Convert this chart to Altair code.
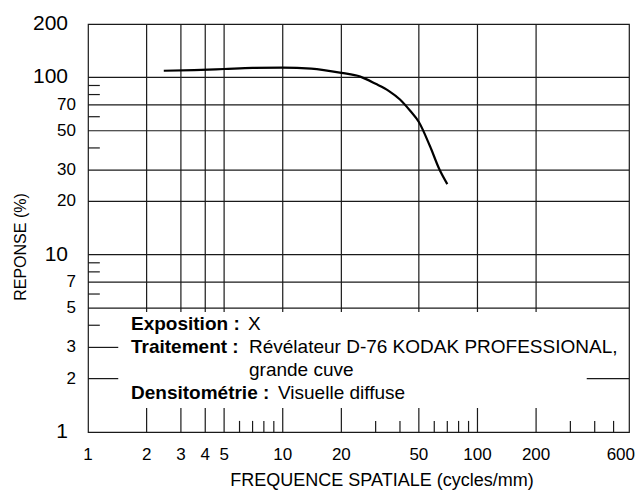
import altair as alt
import pandas as pd

# ---- data ----
freq = [2.45, 3.5, 5, 7, 10, 14, 20, 25, 30, 35, 40, 45, 50, 57, 64, 70]
resp = [109, 110, 111.5, 113, 113.5, 112, 106, 101, 92, 84, 75, 65, 56, 41, 30, 25]

x_grid = [2, 3, 4, 5, 10, 20, 50, 100, 200]
y_grid = [5, 7, 10, 20, 30, 50, 70, 100]
y_minor_short = [90, 80, 60, 40, 9, 8, 6, 4]
y_minor_long = [3, 2]
x_minor = [6, 7, 8, 9, 30, 40, 60, 70, 80, 90, 300, 400, 500]
x_labels = [1, 2, 3, 4, 5, 10, 20, 50, 100, 200]
x_label_last = [600]
y_labels_big = [200, 100, 10, 1]
y_labels_small = [70, 50, 30, 20, 7, 5, 3, 2]

ann_keys = ["Exposition :", "Traitement :", "", "Densitométrie :"]
ann_vals = ["X", "Révélateur D-76 KODAK PROFESSIONAL,", "grande cuve", "Visuelle diffuse"]

x_title = "FREQUENCE SPATIALE (cycles/mm)"
y_title = "REPONSE (%)"

FONT = "Liberation Sans"
LINE = "#1a1a1a"

xs = alt.Scale(type="log", domain=[1, 600], nice=False)
ys = alt.Scale(type="log", domain=[1, 200], nice=False)

def X(field, **kw):
    return alt.X(field, type="quantitative", scale=xs, axis=None, **kw)

def Y(field, **kw):
    return alt.Y(field, type="quantitative", scale=ys, axis=None, **kw)

layers = []

# vertical grid lines (stop just under the 5 % line)
vg = pd.DataFrame({"x": x_grid, "y1": [4.75] * len(x_grid), "y2": [200] * len(x_grid)})
layers.append(alt.Chart(vg).mark_rule(color=LINE, strokeWidth=1.2).encode(
    x=X("x"), y=Y("y1"), y2="y2"))

# bottom long ticks
bt = pd.DataFrame({"x": x_grid, "y1": [1] * len(x_grid), "y2": [1.366] * len(x_grid)})
layers.append(alt.Chart(bt).mark_rule(color=LINE, strokeWidth=1.2).encode(
    x=X("x"), y=Y("y1"), y2="y2"))

# bottom short ticks
bs = pd.DataFrame({"x": x_minor, "y1": [1] * len(x_minor), "y2": [1.155] * len(x_minor)})
layers.append(alt.Chart(bs).mark_rule(color=LINE, strokeWidth=1.2).encode(
    x=X("x"), y=Y("y1"), y2="y2"))

# horizontal grid lines
hg = pd.DataFrame({"y": y_grid, "x1": [1] * len(y_grid), "x2": [600] * len(y_grid)})
layers.append(alt.Chart(hg).mark_rule(color=LINE, strokeWidth=1.2).encode(
    y=Y("y"), x=X("x1"), x2="x2"))

# left short ticks
ls = pd.DataFrame({"y": y_minor_short, "x1": [1] * len(y_minor_short), "x2": [1.15] * len(y_minor_short)})
layers.append(alt.Chart(ls).mark_rule(color=LINE, strokeWidth=1.2).encode(
    y=Y("y"), x=X("x1"), x2="x2"))

# left long ticks
ll = pd.DataFrame({"y": y_minor_long, "x1": [1] * len(y_minor_long), "x2": [1.43] * len(y_minor_long)})
layers.append(alt.Chart(ll).mark_rule(color=LINE, strokeWidth=1.2).encode(
    y=Y("y"), x=X("x1"), x2="x2"))

# right tick at 2
rt = pd.DataFrame({"y": [2], "x1": [364], "x2": [600]})
layers.append(alt.Chart(rt).mark_rule(color=LINE, strokeWidth=1.2).encode(
    y=Y("y"), x=X("x1"), x2="x2"))

# curve
cdf = pd.DataFrame({"f": freq, "r": resp})
layers.append(alt.Chart(cdf).mark_line(color="black", strokeWidth=2.2, interpolate="monotone").encode(
    x=X("f"), y=Y("r")))

# x labels
xl = pd.DataFrame({"v": x_labels})
layers.append(alt.Chart(xl).mark_text(align="center", baseline="middle", fontSize=17,
                                      font=FONT, color="black").encode(
    x=X("v"), y=alt.value(431), text=alt.Text("v:Q", format="d")))
xl2 = pd.DataFrame({"v": x_label_last})
layers.append(alt.Chart(xl2).mark_text(align="right", baseline="middle", fontSize=17, dx=6,
                                       font=FONT, color="black").encode(
    x=X("v"), y=alt.value(431), text=alt.Text("v:Q", format="d")))

# y labels
ybig = pd.DataFrame({"v": y_labels_big})
layers.append(alt.Chart(ybig).mark_text(align="right", baseline="middle", fontSize=21,
                                        font=FONT, color="black").encode(
    y=Y("v"), x=alt.value(-20), text=alt.Text("v:Q", format="d")))
ysm = pd.DataFrame({"v": y_labels_small})
layers.append(alt.Chart(ysm).mark_text(align="right", baseline="middle", fontSize=17,
                                       font=FONT, color="black").encode(
    y=Y("v"), x=alt.value(-12), text=alt.Text("v:Q", format="d")))

# annotation block
key_y = [306, 329, 352, 375]
val_x = [160, 161, 161, 190]
for i, (k, v) in enumerate(zip(ann_keys, ann_vals)):
    if k:
        layers.append(alt.Chart(pd.DataFrame({"t": [k]})).mark_text(
            align="left", baseline="alphabetic", fontSize=19, fontWeight="bold",
            font=FONT, color="black").encode(
            x=alt.value(43), y=alt.value(key_y[i]), text="t:N"))
    layers.append(alt.Chart(pd.DataFrame({"t": [v]})).mark_text(
        align="left", baseline="alphabetic", fontSize=19, font=FONT, color="black").encode(
        x=alt.value(val_x[i]), y=alt.value(key_y[i]), text="t:N"))

# axis titles
layers.append(alt.Chart(pd.DataFrame({"t": [x_title]})).mark_text(
    align="center", baseline="middle", fontSize=18, font=FONT, color="black").encode(
    x=alt.value(294), y=alt.value(457), text="t:N"))
layers.append(alt.Chart(pd.DataFrame({"t": [y_title]})).mark_text(
    align="center", baseline="middle", fontSize=16, font=FONT, color="black", angle=270).encode(
    x=alt.value(-67), y=alt.value(223), text="t:N"))

chart = alt.layer(*layers).properties(
    width=541, height=408,
    autosize=alt.AutoSizeParams(type="none"),
    padding={"left": 80, "top": 16, "right": 6, "bottom": 60},
).configure_view(stroke=LINE, strokeWidth=1.2)

chart.save("out.html", embed_options={"renderer": "svg", "actions": False})
